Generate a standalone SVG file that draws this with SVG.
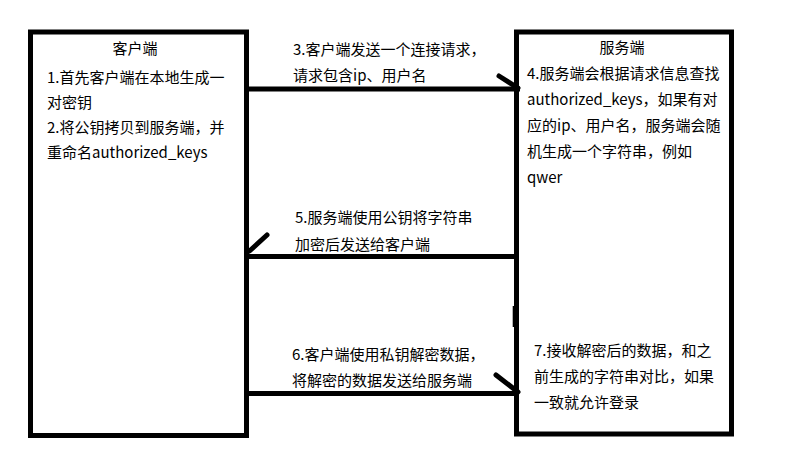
<svg xmlns="http://www.w3.org/2000/svg" width="786" height="464" viewBox="0 0 786 464">
<style>
.box{fill:none;stroke:#000;stroke-width:5}
.ln{stroke:#000;stroke-width:5;fill:none}
.barb{stroke:#000;stroke-width:5;stroke-linecap:round;fill:none}
text{font-family:"Noto Sans CJK SC","Noto Sans",sans-serif;font-size:15px;fill:#000}
.c{text-anchor:middle}
</style>
<rect x="0" y="0" width="786" height="464" fill="#fff"/>
<g id="client">
<rect class="box" x="30.5" y="32" width="216" height="403.5"/>
<text class="c" x="135" y="54">客户端</text>
<text x="47" y="83">1.首先客户端在本地生成一</text>
<text x="47" y="108">对密钥</text>
<text x="47" y="133">2.将公钥拷贝到服务端，并</text>
<text x="47" y="158">重命名authorized_keys</text>
</g>
<g id="server">
<rect class="box" x="516.5" y="32" width="215" height="402"/>
<rect x="512.7" y="306" width="2" height="21" fill="#000"/>
<text class="c" x="622" y="53">服务端</text>
<text x="527" y="79">4.服务端会根据请求信息查找</text>
<text x="527" y="105">authorized_keys，如果有对</text>
<text x="527" y="131">应的ip、用户名，服务端会随</text>
<text x="527" y="157">机生成一个字符串，例如</text>
<text x="527" y="183">qwer</text>
<text x="534" y="356">7.接收解密后的数据，和之</text>
<text x="534" y="382">前生成的字符串对比，如果</text>
<text x="534" y="408">一致就允许登录</text>
</g>
<g id="connectors">
<line class="ln" x1="249" y1="89" x2="520" y2="89"/>
<line class="barb" x1="499" y1="76" x2="518" y2="88"/>
<line class="ln" x1="246" y1="256.5" x2="516" y2="256.5"/>
<line class="barb" x1="267" y1="235" x2="249.5" y2="251"/>
<line class="ln" x1="249" y1="393.5" x2="519" y2="393.5"/>
<line class="barb" x1="496" y1="375" x2="518" y2="392"/>
</g>
<g id="labels">
<text x="293" y="55">3.客户端发送一个连接请求，</text>
<text x="293" y="81">请求包含ip、用户名</text>
<text x="295" y="223">5.服务端使用公钥将字符串</text>
<text x="295" y="250">加密后发送给客户端</text>
<text x="292" y="360">6.客户端使用私钥解密数据，</text>
<text x="292" y="386">将解密的数据发送给服务端</text>
</g>
</svg>
